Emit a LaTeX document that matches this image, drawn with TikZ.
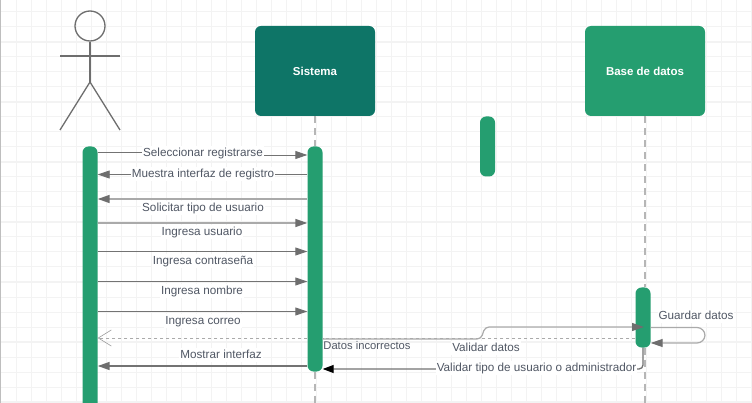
\documentclass[tikz,border=0pt]{standalone}
\usepackage{fontspec}
\setmainfont{Liberation Sans}
\usetikzlibrary{arrows.meta}
\definecolor{gridColor}{RGB}{243,243,243}
\definecolor{pageEdge}{RGB}{190,190,190}
\definecolor{darkBox}{RGB}{14,117,103}
\definecolor{greenBox}{RGB}{37,158,112}
\definecolor{lifeColor}{RGB}{182,182,182}
\definecolor{headColor}{RGB}{110,110,110}
\definecolor{darkLine}{RGB}{115,115,115}
\definecolor{lightLine}{RGB}{170,170,170}
\definecolor{textColor}{RGB}{80,87,100}
\tikzstyle{canvas} = [x = 1pt, y = -1pt]
\tikzstyle{gridLine} = [color=gridColor, line width=1pt]
\tikzstyle{gridMajor} = [color=gridColor, line width=1.6pt]
\tikzstyle{actorLine} = [color=headColor, line width=1.3pt]
\tikzstyle{headBox} = [draw=none, rectangle, rounded corners=6pt, minimum width=120pt, minimum height=90pt, inner sep=0pt, text=white, font=\fontsize{11.5}{13}\selectfont\bfseries]
\tikzstyle{activeBar} = [rectangle, fill=greenBox, rounded corners=6pt, minimum width=15pt, inner sep=0pt]
\tikzstyle{lifeLine} = [color=lifeColor, line width=1.5pt, dash pattern=on 7pt off 5pt]
\tikzstyle{thinCall} = [color=darkLine, line width=0.9pt, -{Triangle[length=12pt,width=8pt,color=headColor]}]
\tikzstyle{softCall} = [color=lightLine, line width=1.5pt, -{Triangle[length=12pt,width=8pt,color=headColor]}]
\tikzstyle{heavyCall} = [color=darkLine, line width=1.5pt, -{Triangle[length=12pt,width=8pt,color=headColor]}]
\tikzstyle{blackCall} = [color=darkLine, line width=1.3pt, rounded corners=4pt, -{Triangle[length=11pt,width=8pt,color=black]}]
\tikzstyle{returnCall} = [color=lightLine, line width=1pt, dash pattern=on 3pt off 3pt]
\tikzstyle{msgText} = [inner sep=1pt, fill=white, text=textColor, text height=9pt, text depth=2.5pt, font=\fontsize{11.7}{13}\selectfont]
\newcommand{\barPoint}[2]{(#1 |- 0,#2)}
\newcommand{\msgLabel}[4]{\node [msgText] (#1) at (#2,#3) {#4};}
\begin{document}
\begin{tikzpicture}[canvas]
  \useasboundingbox (0,0) rectangle (752,403);
  \clip (0,0) rectangle (752,403);
  \fill [white] (0,0) rectangle (752,403);
  \foreach \vertical in {1,...,50} {
    \draw [gridLine] (15*\vertical+1,0) -- (15*\vertical+1,403);
  }
  \foreach \horizontal in {0,...,26} {
    \draw [gridLine] (0,15*\horizontal+12) -- (752,15*\horizontal+12);
  }
  \foreach \horizontal in {0,...,6} {
    \draw [gridMajor] (0,60*\horizontal+42) -- (752,60*\horizontal+42);
  }
  \draw [color=pageEdge, line width=1pt] (0.5,0) -- (0.5,403);

  % actor
  \node [circle, draw=headColor, line width=1.3pt, minimum size=30pt, inner sep=0pt] (actorHead) at (90,26) {};
  \coordinate (actorHip) at (90,82);
  \coordinate (armLeft) at (60,56);
  \coordinate (armRight) at (120,56);
  \coordinate (footLeft) at (60,130);
  \coordinate (footRight) at (120,130);
  \draw [actorLine] (actorHead.south) -- (actorHip);
  \draw [actorLine] (armLeft) -- (armRight);
  \draw [actorLine] (footLeft) -- (actorHip) -- (footRight);

  \node [headBox, fill=darkBox] (sistema) at (315,71) {Sistema};
  \node [headBox, fill=greenBox] (baseDatos) at (645,71) {Base de datos};

  % bars
  \node [activeBar, minimum height=270pt] (barActor) at (90,281.5) {};
  \node [activeBar, minimum height=225pt] (barSistema) at (315,259) {};
  \node [activeBar, minimum height=60pt] (barBase) at (643,317.5) {};
  \node [activeBar, minimum height=60pt] (barLoose) at (487.5,146.5) {};

  \coordinate (sistemaEnd) at (315,403);
  \coordinate (baseEnd) at (645,403);
  \coordinate (baseHit) at (644,327);
  \draw [lifeLine] (sistema.south) -- (barSistema.north);
  \draw [lifeLine] (barSistema.south) -- (sistemaEnd);
  \draw [lifeLine] (baseDatos.south) -- (barBase.north -| baseDatos.south);
  \draw [lifeLine] (barBase.south -| baseDatos.south) -- (baseEnd);

  % messages
  \draw [thinCall] \barPoint{barActor.east}{152.5} -- (262,152.5) -- (262,155) -- \barPoint{barSistema.west}{155};
  \draw [thinCall] \barPoint{barSistema.west}{174.5} -- \barPoint{barActor.east}{174.5};
  \draw [softCall] \barPoint{barSistema.west}{199} -- \barPoint{barActor.east}{199};
  \draw [softCall] \barPoint{barActor.east}{223} -- \barPoint{barSistema.west}{223};
  \draw [thinCall] \barPoint{barActor.east}{251.5} -- \barPoint{barSistema.west}{251.5};
  \draw [thinCall] \barPoint{barActor.east}{281.5} -- \barPoint{barSistema.west}{281.5};
  \draw [thinCall] \barPoint{barActor.east}{311.5} -- \barPoint{barSistema.west}{311.5};
  \draw [heavyCall] \barPoint{barSistema.west}{366} -- \barPoint{barActor.east}{366};

  % dashed return, cut by the bar
  \draw [returnCall] \barPoint{barBase.west}{338} -- \barPoint{barSistema.east}{338};
  \draw [returnCall, -{Straight Barb[length=13pt,width=16pt,color=darkLine!70,line width=0.6pt]}] \barPoint{barSistema.west}{338} -- \barPoint{barActor.east}{338};

  \draw [softCall, line width=1.2pt, rounded corners=4pt] \barPoint{barSistema.east}{339} -- (481,339) -- (485,327) -- (baseHit);
  \draw [softCall, line width=1.2pt, rounded corners=8pt] \barPoint{barBase.east}{327.5} -- (705,327.5) -- (705,343) -- \barPoint{barBase.east}{343};
  \draw [blackCall] (barBase.south -| 643,0) -- (643,369) -- \barPoint{barSistema.east}{369};

  % labels
  \msgLabel{textSeleccionar}{203}{153}{Seleccionar registrarse}
  \msgLabel{textMuestra}{203}{174}{Muestra interfaz de registro}
  \msgLabel{textSolicitar}{203}{208}{Solicitar tipo de usuario}
  \msgLabel{textUsuario}{202}{232}{Ingresa usuario}
  \msgLabel{textContrasena}{203}{261}{Ingresa contraseña}
  \msgLabel{textNombre}{202}{291}{Ingresa nombre}
  \msgLabel{textCorreo}{203}{321}{Ingresa correo}
  \msgLabel{textMostrar}{221}{355}{Mostrar interfaz}
  \node [msgText, fill=none, font=\fontsize{11.2}{13}\selectfont] (textDatos) at (367,346.5) {Datos incorrectos};
  \msgLabel{textValidar}{486}{348}{Validar datos}
  \msgLabel{textTipo}{536.5}{368}{Validar tipo de usuario o administrador}
  \msgLabel{textGuardar}{696}{316.5}{Guardar datos}
\end{tikzpicture}
\end{document}
